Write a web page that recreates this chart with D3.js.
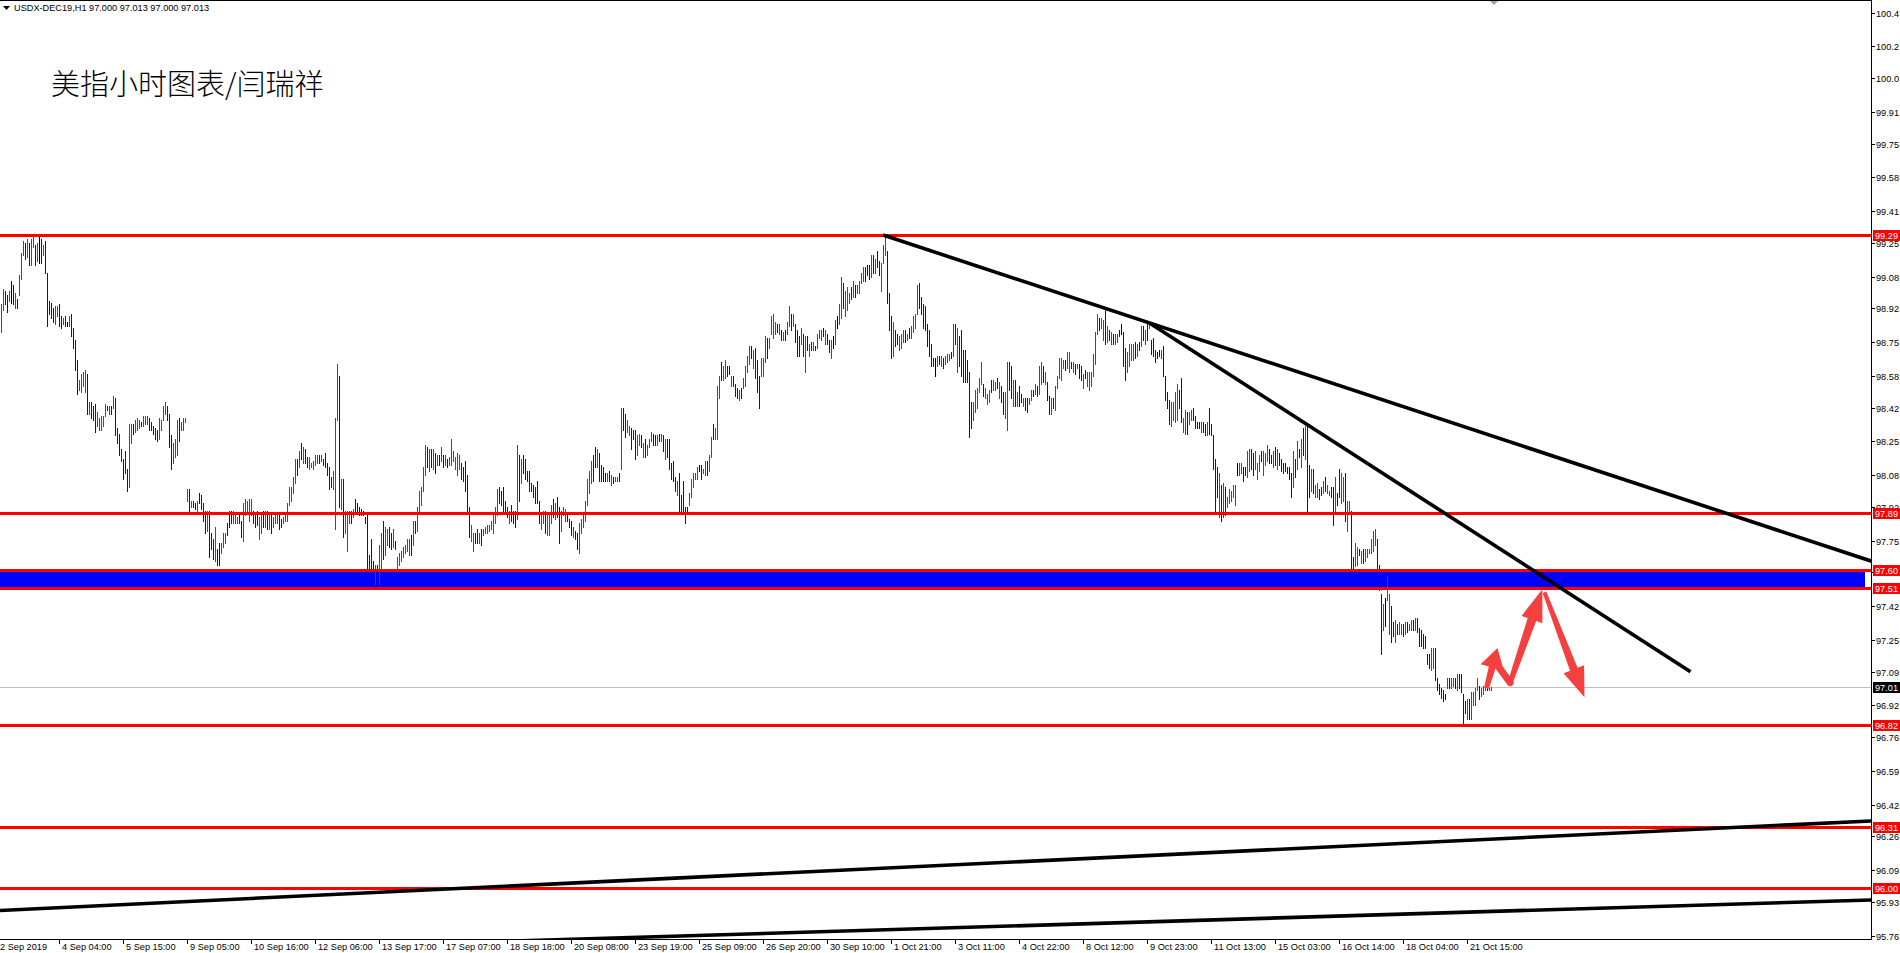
<!DOCTYPE html>
<html><head><meta charset="utf-8">
<script src="https://cdn.jsdelivr.net/npm/d3@7"></script>
<style>html,body{margin:0;padding:0;background:#fff;overflow:hidden}svg{display:block}</style>
</head><body><svg id="c" width="1900" height="953"></svg>
<script>
// ---------- DATA ----------
const symbolHeader = "USDX-DEC19,H1  97.000 97.013 97.000 97.013";
const chartTitle = "美指小时图表/闫瑞祥";

// hourly bars (high / low / direction r=up b=down k=doji), 2 Sep 2019 -> 21 Oct 2019
const barHigh = [
98.94,99.02,99.01,98.99,99.01,99.06,99.04,99.00,98.97,99.09,
99.20,99.26,99.25,99.27,99.25,99.27,99.29,99.24,99.25,99.29,
99.27,99.24,99.26,99.10,98.96,98.95,98.92,98.93,98.93,98.94,
98.88,98.87,98.88,98.85,98.88,98.89,98.82,98.76,98.66,98.56,
98.59,98.60,98.61,98.59,98.45,98.45,98.43,98.44,98.40,98.37,
98.38,98.38,98.44,98.43,98.43,98.43,98.48,98.47,98.32,98.29,
98.21,98.16,98.20,98.11,98.34,98.34,98.34,98.36,98.37,98.36,
98.35,98.38,98.38,98.38,98.37,98.35,98.33,98.32,98.31,98.37,
98.36,98.43,98.45,98.43,98.39,98.28,98.24,98.26,98.36,98.37,
98.35,98.37,98.37,98.01,98.01,97.95,97.95,97.94,97.95,97.99,
97.98,97.94,97.90,97.90,97.90,97.79,97.76,97.82,97.71,97.74,
97.74,97.79,97.79,97.84,97.90,97.90,97.90,97.88,97.87,97.88,
97.85,97.94,97.96,97.95,97.96,97.96,97.90,97.89,97.90,97.87,
97.88,97.90,97.90,97.90,97.88,97.88,97.87,97.88,97.89,97.88,
97.86,97.87,97.89,97.94,98.02,98.02,98.07,98.16,98.16,98.20,
98.24,98.22,98.21,98.17,98.17,98.14,98.15,98.18,98.18,98.18,
98.18,98.16,98.19,98.14,98.12,98.07,98.10,98.37,98.64,98.58,
98.06,98.06,97.90,97.90,97.90,97.90,97.91,97.96,97.94,97.92,
97.91,97.90,97.87,97.88,97.68,97.76,97.65,97.63,97.63,97.73,
97.79,97.85,97.82,97.81,97.82,97.79,97.81,97.75,97.67,97.69,
97.70,97.72,97.73,97.76,97.76,97.78,97.85,97.85,97.92,98.00,
98.02,98.12,98.23,98.22,98.21,98.21,98.21,98.19,98.18,98.18,
98.22,98.18,98.18,98.16,98.17,98.26,98.20,98.17,98.19,98.18,
98.14,98.12,98.15,98.08,97.92,97.83,97.79,97.79,97.81,97.79,
97.81,97.81,97.82,97.83,97.83,97.85,97.88,97.92,98.01,98.02,
98.00,98.02,97.95,97.92,97.90,97.93,97.90,97.90,98.23,98.18,
98.16,98.18,98.16,98.10,98.10,98.04,98.03,98.02,98.05,97.95,
97.89,97.90,97.90,97.88,97.89,97.93,97.96,97.94,97.97,97.92,
97.90,97.92,97.91,97.88,97.86,97.85,97.82,97.80,97.79,97.84,
97.86,97.88,97.95,98.06,98.10,98.15,98.18,98.22,98.21,98.19,
98.13,98.12,98.09,98.09,98.10,98.08,98.07,98.07,98.07,98.09,
98.42,98.42,98.39,98.36,98.33,98.32,98.31,98.31,98.28,98.29,
98.28,98.24,98.26,98.23,98.26,98.30,98.29,98.28,98.28,98.29,
98.29,98.28,98.26,98.26,98.26,98.14,98.15,98.07,98.05,98.09,
97.98,98.05,97.92,97.92,97.99,98.06,98.09,98.09,98.12,98.13,
98.13,98.11,98.15,98.15,98.18,98.27,98.34,98.32,98.53,98.58,
98.65,98.63,98.66,98.63,98.63,98.58,98.58,98.54,98.52,98.51,
98.52,98.57,98.63,98.68,98.73,98.73,98.71,98.72,98.66,98.58,
98.67,98.67,98.78,98.77,98.77,98.88,98.89,98.85,98.84,98.84,
98.81,98.80,98.81,98.85,98.93,98.89,98.89,98.84,98.81,98.78,
98.82,98.79,98.78,98.78,98.74,98.75,98.75,98.73,98.79,98.81,
98.81,98.82,98.81,98.79,98.76,98.76,98.78,98.86,98.88,98.94,
99.08,99.05,99.01,99.03,99.00,99.03,99.06,99.04,99.04,99.06,
99.10,99.13,99.13,99.14,99.14,99.19,99.19,99.17,99.21,99.16,
99.15,99.24,99.29,99.21,99.00,98.88,98.85,98.81,98.79,98.78,
98.79,98.81,98.81,98.79,98.82,98.83,98.88,98.89,99.04,99.05,
98.98,98.94,98.93,98.84,98.81,98.74,98.67,98.67,98.68,98.68,
98.68,98.67,98.68,98.69,98.69,98.70,98.84,98.84,98.82,98.78,
98.81,98.71,98.71,98.66,98.60,98.45,98.45,98.51,98.52,98.57,
98.65,98.54,98.52,98.49,98.51,98.56,98.56,98.55,98.57,98.55,
98.53,98.50,98.50,98.65,98.65,98.63,98.56,98.56,98.50,98.53,
98.49,98.47,98.47,98.47,98.47,98.51,98.51,98.54,98.53,98.63,
98.65,98.63,98.60,98.55,98.48,98.47,98.47,98.53,98.58,98.67,
98.67,98.66,98.66,98.70,98.70,98.65,98.65,98.64,98.64,98.64,
98.63,98.59,98.61,98.60,98.60,98.60,98.69,98.80,98.89,98.87,
98.87,98.86,98.91,98.83,98.81,98.80,98.79,98.79,98.79,98.81,
98.84,98.80,98.72,98.70,98.74,98.74,98.74,98.75,98.74,98.75,
98.83,98.83,98.81,98.84,98.84,98.76,98.77,98.71,98.70,98.71,
98.71,98.73,98.58,98.50,98.46,98.45,98.45,98.50,98.54,98.51,
98.57,98.37,98.41,98.40,98.40,98.41,98.42,98.38,98.35,98.35,
98.35,98.35,98.34,98.35,98.42,98.34,98.28,98.16,98.12,
98.09,98.03,98.04,98.02,97.97,98.01,98.00,98.03,98.03,98.14,
98.14,98.14,98.12,98.12,98.20,98.21,98.21,98.19,98.20,98.14,
98.18,98.20,98.20,98.19,98.23,98.21,98.18,98.20,98.22,98.21,
98.19,98.16,98.14,98.14,98.12,98.12,98.09,98.20,98.16,98.25,
98.21,98.26,98.32,98.33,98.33,98.13,98.11,98.11,98.03,98.04,
98.01,98.02,98.05,98.07,98.03,98.00,98.02,98.02,98.07,97.99,
98.11,98.09,98.07,98.09,97.95,97.95,97.90,97.67,97.74,97.72,
97.71,97.70,97.71,97.71,97.71,97.71,97.76,97.80,97.81,97.76,
97.63,97.48,97.43,97.46,97.57,97.48,97.42,97.34,97.35,97.33,
97.34,97.33,97.33,97.34,97.34,97.33,97.35,97.35,97.36,97.36,
97.31,97.30,97.28,97.27,97.18,97.18,97.21,97.21,97.21,97.06,
97.03,97.01,97.00,96.98,97.06,97.06,97.06,97.06,97.06,97.08,
97.08,97.08,96.98,96.94,96.95,96.95,96.99,96.99,97.01,97.06,
97.02,97.01,97.02,97.03,97.03,97.01,97.013
];
const barLow = [
98.80,98.91,98.94,98.90,98.96,98.95,98.94,98.92,98.92,98.99,
99.07,99.19,99.17,99.18,99.14,99.14,99.23,99.14,99.16,99.15,
99.15,99.19,99.10,98.83,98.89,98.87,98.85,98.84,98.88,98.83,
98.82,98.84,98.83,98.83,98.83,98.78,98.72,98.61,98.49,98.51,
98.50,98.53,98.50,98.39,98.39,98.37,98.36,98.30,98.33,98.31,
98.31,98.33,98.38,98.41,98.39,98.39,98.42,98.28,98.24,98.18,
98.15,98.06,98.09,98.00,98.02,98.24,98.29,98.30,98.31,98.32,
98.33,98.33,98.34,98.34,98.31,98.31,98.29,98.26,98.25,98.26,
98.31,98.36,98.39,98.36,98.22,98.11,98.14,98.17,98.18,98.25,
98.31,98.31,98.35,97.95,97.90,97.92,97.92,97.91,97.90,97.94,
97.91,97.85,97.79,97.80,97.67,97.71,97.66,97.65,97.63,97.63,
97.69,97.72,97.74,97.78,97.82,97.84,97.84,97.84,97.84,97.84,
97.77,97.75,97.88,97.90,97.85,97.88,97.84,97.82,97.83,97.76,
97.79,97.82,97.82,97.81,97.81,97.79,97.82,97.84,97.84,97.81,
97.82,97.84,97.85,97.85,97.93,97.95,97.99,98.04,98.08,98.12,
98.16,98.14,98.14,98.12,98.11,98.12,98.11,98.13,98.14,98.14,
98.15,98.13,98.12,98.08,98.01,98.02,98.01,97.81,98.36,97.92,
97.91,97.77,97.79,97.70,97.84,97.84,97.87,97.90,97.89,97.88,
97.88,97.88,97.84,97.60,97.60,97.60,97.59,97.53,97.53,97.53,
97.61,97.66,97.68,97.73,97.72,97.71,97.72,97.71,97.60,97.63,
97.65,97.67,97.69,97.70,97.68,97.68,97.73,97.79,97.80,97.89,
97.93,98.00,98.08,98.12,98.10,98.12,98.11,98.09,98.13,98.13,
98.15,98.12,98.13,98.12,98.13,98.13,98.15,98.11,98.08,98.11,
98.06,98.05,98.00,97.89,97.77,97.75,97.70,97.74,97.74,97.74,
97.73,97.78,97.79,97.79,97.80,97.81,97.79,97.84,97.88,97.94,
97.93,97.90,97.89,97.87,97.84,97.85,97.84,97.82,97.86,97.95,
98.04,98.09,98.06,98.05,98.00,98.00,97.97,97.94,97.94,97.84,
97.81,97.84,97.79,97.78,97.78,97.84,97.87,97.86,97.87,97.74,
97.80,97.88,97.85,97.85,97.82,97.78,97.77,97.76,97.71,97.69,
97.79,97.82,97.85,97.93,97.99,98.04,98.05,98.12,98.12,98.05,
98.05,98.05,98.05,98.05,98.05,98.03,98.04,98.05,98.05,98.05,
98.11,98.31,98.27,98.30,98.28,98.21,98.26,98.16,98.18,98.23,
98.22,98.17,98.17,98.18,98.22,98.25,98.23,98.23,98.23,98.25,
98.25,98.20,98.16,98.17,98.11,98.06,98.05,98.00,97.98,97.90,
97.90,97.90,97.84,97.90,97.93,97.97,98.02,98.06,98.06,98.10,
98.06,98.09,98.08,98.08,98.10,98.17,98.26,98.26,98.26,98.47,
98.56,98.56,98.57,98.58,98.59,98.53,98.53,98.48,98.47,98.46,
98.47,98.52,98.53,98.60,98.64,98.67,98.62,98.57,98.50,98.42,
98.58,98.58,98.65,98.67,98.72,98.79,98.77,98.79,98.80,98.79,
98.76,98.76,98.76,98.79,98.83,98.81,98.83,98.75,98.68,98.68,
98.74,98.68,98.60,98.71,98.68,98.71,98.71,98.71,98.72,98.77,
98.76,98.78,98.74,98.74,98.70,98.67,98.72,98.74,98.82,98.84,
98.87,98.92,98.88,98.91,98.95,98.97,98.98,98.98,99.00,99.00,
99.05,99.06,99.06,99.09,99.07,99.08,99.10,99.10,99.13,99.09,
99.01,99.15,99.19,98.95,98.81,98.67,98.68,98.73,98.74,98.71,
98.72,98.75,98.75,98.76,98.77,98.77,98.80,98.82,98.89,98.92,
98.89,98.82,98.81,98.73,98.68,98.63,98.63,98.58,98.63,98.64,
98.63,98.62,98.64,98.65,98.66,98.67,98.68,98.74,98.60,98.63,
98.58,98.55,98.55,98.55,98.27,98.32,98.36,98.40,98.42,98.50,
98.54,98.48,98.47,98.44,98.45,98.50,98.51,98.51,98.52,98.47,
98.45,98.39,98.37,98.31,98.51,98.47,98.43,98.43,98.43,98.43,
98.45,98.43,98.41,98.40,98.44,98.46,98.48,98.49,98.48,98.49,
98.54,98.55,98.54,98.46,98.39,98.39,98.42,98.41,98.52,98.57,
98.56,98.62,98.61,98.62,98.60,98.62,98.60,98.59,98.62,98.57,
98.56,98.52,98.57,98.53,98.51,98.53,98.58,98.64,98.79,98.81,
98.82,98.76,98.74,98.75,98.76,98.74,98.74,98.74,98.75,98.78,
98.79,98.63,98.56,98.60,98.63,98.66,98.66,98.67,98.68,98.71,
98.73,98.76,98.74,98.76,98.82,98.69,98.68,98.65,98.67,98.68,
98.67,98.58,98.46,98.42,98.34,98.33,98.36,98.35,98.36,98.42,
98.35,98.30,98.29,98.29,98.34,98.36,98.36,98.32,98.32,98.32,
98.30,98.30,98.28,98.28,98.29,98.28,98.11,97.90,97.97,
97.87,97.85,97.87,97.88,97.92,97.94,97.95,97.97,97.93,98.08,
98.08,98.09,98.05,98.08,98.07,98.10,98.11,98.08,98.11,98.06,
98.10,98.15,98.08,98.13,98.15,98.14,98.14,98.12,98.13,98.11,
98.13,98.10,98.09,98.10,98.09,98.06,97.97,98.02,98.07,98.11,
98.17,98.12,98.18,98.16,97.90,97.97,98.00,97.99,97.97,97.97,
97.96,97.98,97.99,98.00,97.99,97.98,97.97,97.83,97.89,97.93,
97.97,97.94,97.95,97.85,97.80,97.89,97.60,97.60,97.62,97.63,
97.68,97.64,97.64,97.65,97.67,97.69,97.69,97.70,97.73,97.60,
97.50,97.18,97.30,97.32,97.45,97.28,97.24,97.27,97.24,97.28,
97.28,97.28,97.27,97.28,97.29,97.30,97.30,97.30,97.30,97.29,
97.22,97.22,97.21,97.21,97.13,97.11,97.10,97.11,97.05,97.00,
96.98,96.96,96.94,96.95,97.01,97.01,97.01,97.02,97.01,97.00,
97.01,96.99,96.83,96.88,96.85,96.85,96.85,96.92,96.92,97.00,
96.95,96.97,96.98,97.00,97.00,97.00,97.00
];
const barDir =
"rrbbrkbrbr"+"rrbrbrrbrk"+"brbbbbbrrb"+"brbkrbbbbr"+"rrrbrbbbrr"+"rrrbrbrbbb"+
"bbbbrrbrrr"+"brrrbbbbbr"+"rrrbbbrrrb"+"rrrrbrbkrb"+"bbbrbbbrbb"+"rrrbbbrrrb"+
"brrrrrbbbr"+"rbrbrbrrrb"+"brrrrrrrbr"+"brbbrrrrrb"+"rbbbbbrrrb"+"rbrrrbrbbb"+
"bbbbbbbrbr"+"rbrrbbrbrr"+"rrrrrbrbrr"+"rrrbrbrbrb"+"rbrbrrrrrr"+"bbbbbrrbbr"+
"brrrrrrrrb"+"bbbbrbbbrb"+"rbbbbbbbbb"+"rrbrrrbrbb"+"rrrbbbrbbr"+"rrrrrrbbrb"+
"bbbrbrbrrb"+
"rbbrrbbbrr"+"brbrrrbbrb"+"rbrbbbbbrb"+"bbbbrrrrrk"+"brrbrrbrrr"+"brrbbrbbbr"+
"brrrrbrbbb"+"rrrbrrrrbr"+"brbrrbrbbb"+"rbrbrbrbrr"+"rbrbbrkrkr"+"rbrrrbrbrr"+
"rrbbbrbrbb"+"rrrbbbrbbr"+"rrbrbrrrrb"+"bbbbbbbkrb"+"rbrrrbrbrb"+"bbbbbbrrrr"+
"rbrrrbrrbr"+"bbrrbbrbrb"+"brbbrrbrbr"+"rbrbbrbrrr"+"rrbrrbrbrb"+"brbrrrrrrb"+
"rrbrbrbrrb"+"kbbrrrrbrb"+"rbrbrbbbbb"+"rbbbbrrrrb"+"brrbrrbbbb"+"rbbrbbbbb"+
"rbrbrrrrrk"+"rrbbrrbbrr"+"rbrrrbbrbr"+"bbbbbbbrbr"+"brbrbbrbrr"+"bbrbrrbbrb"+
"brrbrrbbrr"+"brbrrrrrrb"+"bbrkrrbbrb"+"rrbrbrrbrb"+"bbbbbbrrbb"+"bbbbrbrrbr"+
"bbbbrbrrrr"+"brrrbrr";

// time axis labels, one every 32 bars starting 3 bars before the first bar
const timeLabels = ["2 Sep 2019","4 Sep 04:00","5 Sep 15:00","9 Sep 05:00","10 Sep 16:00",
  "12 Sep 06:00","13 Sep 17:00","17 Sep 07:00","18 Sep 18:00","20 Sep 08:00","23 Sep 19:00",
  "25 Sep 09:00","26 Sep 20:00","30 Sep 10:00","1 Oct 21:00","3 Oct 11:00","4 Oct 22:00",
  "8 Oct 12:00","9 Oct 23:00","11 Oct 13:00","15 Oct 03:00","16 Oct 14:00","18 Oct 04:00",
  "21 Oct 15:00"];
const timeLabelFirstBar = -3;
const timeLabelEvery = 32;

// price axis ticks (values) and the labels as shown
const priceTickValues = [100.41,100.24,100.08,99.91,99.75,99.58,99.41,99.25,99.08,
  98.92,98.75,98.58,98.42,98.25,98.08,97.92,97.75,97.59,97.42,97.25,
  97.09,96.92,96.76,96.59,96.42,96.26,96.09,95.93,95.76];
const priceTickLabels = ["100.4","100.2","100.0","99.91","99.75","99.58","99.41","99.25","99.08",
  "98.92","98.75","98.58","98.42","98.25","98.08","97.92","97.75","97.59","97.42","97.25",
  "97.09","96.92","96.76","96.59","96.42","96.26","96.09","95.93","95.76"];

// horizontal levels, zone and current price
const levelPrices = [99.29, 97.89, 97.60, 97.51, 96.82, 96.31, 96.00];
const levelLabels = ["99.29","97.89","97.60","97.51","96.82","96.31","96.00"];
const zonePrices = [97.60, 97.51];
const zoneEndBar = 932;
const currentPrice = 97.013;
const currentLabel = "97.01";

// trend lines: [barIndex, price] anchors
const trendStarts = [[441, 99.29], [574.25, 98.847], [-0.75, 95.887], [288.75, 95.743]];
const trendEnds   = [[574.25, 98.847], [844.75, 97.09], [934.75, 96.338], [934.75, 95.94]];
const trendExtendLeft  = [false, false, true, true];
const trendExtendRight = [true, false, true, true];

// projected path arrows (bar index, price)
const arrowFrom = [[742.75, 97.007], [754.6, 97.035], [771.75, 97.49]];
const arrowTo   = [[748.25, 97.209], [770.7, 97.505], [791.75, 96.961]];
const zigFrom = [747.75, 97.129];
const zigTo   = [754.6, 97.035];

// ---------- DRAW ----------
const svg = d3.select('#c');
const plotRight = 1871, plotBottom = 939;
const x = d3.scaleLinear().domain([0, 935]).range([1, plotRight]);
const y = d3.scaleLinear().domain([95.76, 100.41]).range([935.7, 12.7]);
const axisFont = "Tahoma, 'Liberation Sans', Arial, sans-serif";
const axisSize = 9.2;

svg.append('rect').attr('width',1900).attr('height',953).attr('fill','#fff');
svg.append('defs').append('clipPath').attr('id','plot')
  .append('rect').attr('x',0).attr('y',0).attr('width',plotRight).attr('height',plotBottom);
const plot = svg.append('g').attr('clip-path','url(#plot)');

// zone (background rectangle)
plot.append('rect')
  .attr('x', 0).attr('y', Math.round(y(zonePrices[0])))
  .attr('width', x(zoneEndBar))
  .attr('height', Math.round(y(zonePrices[1])) - Math.round(y(zonePrices[0])) + 2)
  .attr('fill', '#0000ff');

// current price line
plot.append('line').attr('x1',0).attr('x2',plotRight)
  .attr('y1', Math.round(y(currentPrice))+0.5).attr('y2', Math.round(y(currentPrice))+0.5)
  .attr('stroke','#c0c0c0').attr('stroke-width',1);

// bars
const n = Math.min(barHigh.length, barLow.length, barDir.length);
const bars = d3.range(n).map(i => ({i, h: barHigh[i], l: barLow[i], d: barDir[i]}));
const colorOf = d => d === 'r' ? '#ff0000' : d === 'b' ? '#0000ff' : '#000000';
plot.append('g').attr('shape-rendering','crispEdges').selectAll('rect').data(bars).join('rect')
  .attr('x', d => Math.round(x(d.i)))
  .attr('y', d => Math.round(y(d.h)))
  .attr('width', 1)
  .attr('height', d => Math.max(1, Math.round(y(d.l)) - Math.round(y(d.h)) + 1))
  .attr('fill', d => colorOf(d.d));

// level lines
plot.append('g').selectAll('line').data(levelPrices).join('line')
  .attr('x1',0).attr('x2',plotRight)
  .attr('y1', d => Math.round(y(d))+0.5).attr('y2', d => Math.round(y(d))+0.5)
  .attr('stroke','#ff0000').attr('stroke-width',3);

// trend lines
const trendData = trendStarts.map((a,i) => {
  const b = trendEnds[i];
  const slope = (b[1]-a[1])/(b[0]-a[0]);
  const x0 = trendExtendLeft[i] ? -10 : a[0];
  const x1 = trendExtendRight[i] ? 945 : b[0];
  return [[x0, a[1] + slope*(x0-a[0])], [x1, a[1] + slope*(x1-a[0])]];
});
plot.append('g').selectAll('line').data(trendData).join('line')
  .attr('x1', d => x(d[0][0])).attr('y1', d => y(d[0][1]))
  .attr('x2', d => x(d[1][0])).attr('y2', d => y(d[1][1]))
  .attr('stroke','#000').attr('stroke-width',3.6).attr('stroke-linecap','butt');

// arrows
const arrowColor = '#f54040';
function arrowPoly(s, t, sw0, sw1, hl, hw){
  const dx = t[0]-s[0], dy = t[1]-s[1], L = Math.hypot(dx,dy);
  const ux = dx/L, uy = dy/L, nx = -uy, ny = ux;
  const bx = t[0]-ux*hl, by = t[1]-uy*hl;
  return [
    [s[0]+nx*sw0/2, s[1]+ny*sw0/2],
    [bx+nx*sw1/2, by+ny*sw1/2],
    [bx+nx*hw/2, by+ny*hw/2],
    [t[0], t[1]],
    [bx-nx*hw/2, by-ny*hw/2],
    [bx-nx*sw1/2, by-ny*sw1/2],
    [s[0]-nx*sw0/2, s[1]-ny*sw0/2]
  ];
}
const arrowSpecs = [[5,7,20,24],[5,9,32,22],[4,8,30,22]];
const arrowsG = plot.append('g');
arrowsG.append('line')
  .attr('x1', x(zigFrom[0])).attr('y1', y(zigFrom[1]))
  .attr('x2', x(zigTo[0])).attr('y2', y(zigTo[1]))
  .attr('stroke', arrowColor).attr('stroke-width', 7).attr('stroke-linecap','round');
arrowsG.selectAll('polygon').data(arrowFrom).join('polygon')
  .attr('points', (d,i) => {
    const s = [x(d[0]), y(d[1])], t = [x(arrowTo[i][0]), y(arrowTo[i][1])];
    const sp = arrowSpecs[i];
    return arrowPoly(s, t, sp[0], sp[1], sp[2], sp[3]).map(p => p.join(',')).join(' ');
  })
  .attr('fill', arrowColor);

// frame
const frame = svg.append('g').attr('shape-rendering','crispEdges');
frame.append('line').attr('x1',0).attr('x2',plotRight+1).attr('y1',0.5).attr('y2',0.5).attr('stroke','#000');
frame.append('line').attr('x1',plotRight+0.5).attr('x2',plotRight+0.5).attr('y1',0).attr('y2',plotBottom+1).attr('stroke','#000');
frame.append('line').attr('x1',0).attr('x2',plotRight+1).attr('y1',plotBottom+0.5).attr('y2',plotBottom+0.5).attr('stroke','#000');

// chart-shift marker
const shiftX = x(n) + 1;
svg.append('polygon').attr('points', `${shiftX-4},1 ${shiftX+4},1 ${shiftX},5`).attr('fill','#a0a0a0');

// price axis
const pa = svg.append('g').attr('font-family', axisFont).attr('font-size', axisSize);
pa.selectAll('line').data(priceTickValues).join('line')
  .attr('x1', plotRight+1).attr('x2', plotRight+4)
  .attr('y1', d => Math.round(y(d))+0.5).attr('y2', d => Math.round(y(d))+0.5)
  .attr('stroke','#000').attr('shape-rendering','crispEdges');
pa.selectAll('text').data(priceTickValues).join('text')
  .attr('x', plotRight+5).attr('y', d => Math.round(y(d)) + 3.5)
  .attr('fill','#000').text((d,i) => priceTickLabels[i]);

// level labels
const ll = svg.append('g').attr('font-family', axisFont).attr('font-size', axisSize);
const labelItems = levelPrices.map((p,i) => ({p, t: levelLabels[i], bg:'#ff0000'}))
  .concat([{p: currentPrice, t: currentLabel, bg:'#000000'}]);
ll.selectAll('rect').data(labelItems).join('rect')
  .attr('x', plotRight+2).attr('y', d => Math.round(y(d.p)) - 5)
  .attr('width', 40).attr('height', 11).attr('fill', d => d.bg);
ll.selectAll('text').data(labelItems).join('text')
  .attr('x', plotRight+4).attr('y', d => Math.round(y(d.p)) + 4)
  .attr('fill','#fff').text(d => d.t);

// time axis
const ta = svg.append('g').attr('font-family', axisFont).attr('font-size', axisSize);
const tItems = timeLabels.map((t,i) => ({t, b: timeLabelFirstBar + i*timeLabelEvery}));
ta.selectAll('line').data(tItems).join('line')
  .attr('x1', d => Math.round(x(d.b))+0.5).attr('x2', d => Math.round(x(d.b))+0.5)
  .attr('y1', plotBottom+1).attr('y2', plotBottom+5)
  .attr('stroke','#000').attr('shape-rendering','crispEdges');
ta.selectAll('text').data(tItems).join('text')
  .attr('x', d => Math.max(0, Math.round(x(d.b)) + 3)).attr('y', 950)
  .attr('fill','#000').text(d => d.t);

// header
svg.append('polygon').attr('points','3,6 10,6 6.5,10').attr('fill','#000');
svg.append('text').attr('x',14).attr('y',11).attr('font-family',axisFont).attr('font-size',axisSize)
  .attr('fill','#000').text(symbolHeader);

// title
svg.append('text').attr('x',51).attr('y',95)
  .attr('font-family',"'Noto Sans CJK SC', sans-serif").attr('font-weight',300)
  .attr('font-size',29).attr('fill','#000').text(chartTitle);
</script></body></html>
